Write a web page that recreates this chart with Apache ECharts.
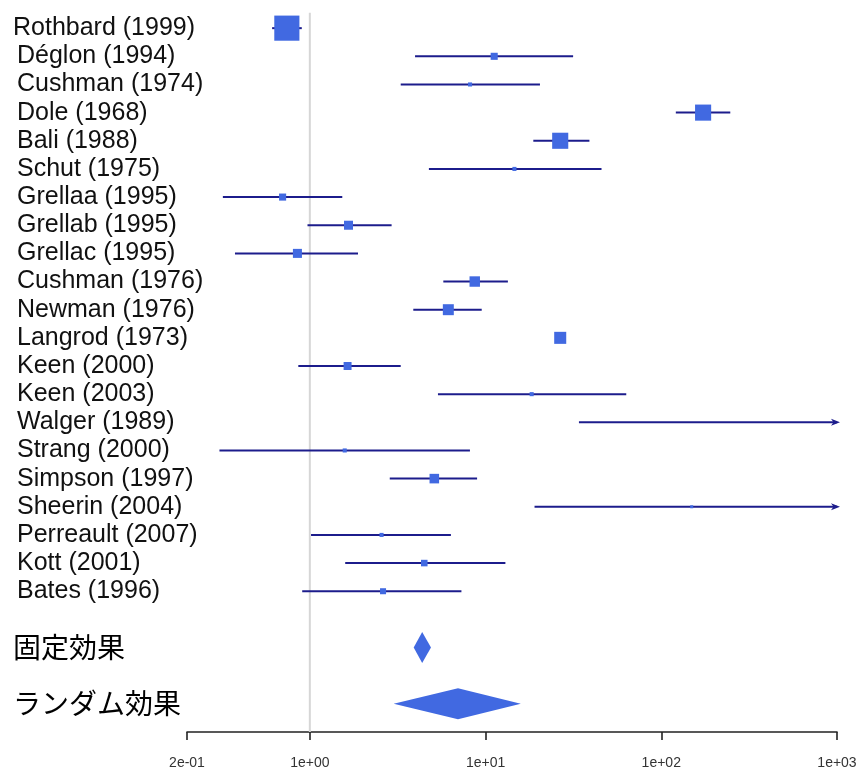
<!DOCTYPE html>
<html>
<head>
<meta charset="utf-8">
<script src="https://cdn.jsdelivr.net/npm/echarts@6/dist/echarts.min.js"></script>
<style>
  html, body { margin: 0; padding: 0; background: #fff; }
  #chart { width: 859px; height: 767px; }
</style>
</head>
<body>
<div id="chart"></div>
<script>
// ---- data ----
const studies = [
  'Rothbard (1999)', 'Déglon (1994)', 'Cushman (1974)', 'Dole (1968)', 'Bali (1988)',
  'Schut (1975)', 'Grellaa (1995)', 'Grellab (1995)', 'Grellac (1995)', 'Cushman (1976)',
  'Newman (1976)', 'Langrod (1973)', 'Keen (2000)', 'Keen (2003)', 'Walger (1989)',
  'Strang (2000)', 'Simpson (1997)', 'Sheerin (2004)', 'Perreault (2007)', 'Kott (2001)',
  'Bates (1996)'
];
const estimates = [0.74, 11.2, 8.16, 173, 26.6, 14.6, 0.70, 1.66, 0.85, 8.68, 6.14, 26.6, 1.64, 18.3, 1250, 1.58, 5.11, 149, 2.56, 4.48, 2.61];
const lower     = [0.61, 3.97, 3.29, 121, 18.7, 4.76, 0.32, 0.97, 0.375, 5.75, 3.88, 25.0, 0.86, 5.36, 34.0, 0.306, 2.85, 19.0, 1.016, 1.59, 0.905];
const upper     = [0.90, 31.5, 20.4, 247, 39.0, 45.7, 1.53, 2.92, 1.88, 13.4, 9.51, 28.3, 3.29, 63.2, 46000, 8.15, 8.95, 1170, 6.35, 12.97, 7.29];
const weights   = [14.2, 4.0, 2.3, 9.1, 9.1, 2.3, 4.0, 5.1, 5.1, 5.9, 6.2, 6.8, 4.5, 2.3, 0.6, 2.3, 5.4, 1.7, 2.3, 3.7, 3.4];

const summaryLabels = ['固定効果', 'ランダム効果'];
const summaryEst    = [4.36, 6.97];
const summaryLower  = [3.90, 3.00];
const summaryUpper  = [4.89, 15.87];

const tickValues = [0.2, 1, 10, 100, 1000];
const tickLabels = ['2e-01', '1e+00', '1e+01', '1e+02', '1e+03'];

// ---- layout helpers ----
const lg = Math.log10;
const xMin = lg(tickValues[0]);
const xMax = lg(tickValues[tickValues.length - 1]);
const nStudy = studies.length;
const summaryRows = summaryLabels.map((_, k) => nStudy + 1 + 2 * k);

const LINE = '#1c1c8c';
const BOX = '#4169E1';

const labelMap = {};
studies.forEach((s, i) => { labelMap[i] = s; });
summaryLabels.forEach((s, k) => { labelMap[summaryRows[k]] = s; });

const ciData = studies.map((s, i) => [i, lg(lower[i]), lg(upper[i])]);
const boxData = studies.map((s, i) => [lg(estimates[i]), i, weights[i]]);
const diamondData = summaryLabels.map((s, k) => [summaryRows[k], lg(summaryLower[k]), lg(summaryEst[k]), lg(summaryUpper[k])]);

const chart = echarts.init(document.getElementById('chart'), null, { renderer: 'canvas' });

const option = {
  animation: false,
  backgroundColor: '#fff',
  grid: { left: 187, right: 22, top: 0, bottom: 35, containLabel: false, outerBoundsMode: 'none' },
  xAxis: {
    type: 'value',
    min: xMin,
    max: xMax,
    splitLine: { show: false },
    axisLine: { show: true, onZero: false, lineStyle: { color: '#222', width: 1.6 } },
    axisTick: { show: true, length: 8, lineStyle: { color: '#222', width: 1.6 },
      customValues: tickValues.map(lg) },
    axisLabel: {
      customValues: tickValues.map(lg),
      margin: 24,
      fontSize: 14,
      color: '#333',
      fontFamily: 'Liberation Sans, Arial, sans-serif',
      formatter: function (v) {
        let best = 0, bd = Infinity;
        tickValues.forEach((t, i) => { const d = Math.abs(lg(t) - v); if (d < bd) { bd = d; best = i; } });
        return tickLabels[best];
      }
    }
  },
  yAxis: {
    type: 'value',
    inverse: true,
    min: -1,
    max: nStudy + 4,
    splitLine: { show: false },
    axisLine: { show: false },
    axisTick: { show: false },
    axisLabel: {
      customValues: Object.keys(labelMap).map(Number),
      align: 'left',
      margin: 174,
      color: '#111',
      fontSize: 25,
      fontFamily: 'Liberation Sans, Arial, sans-serif',
      formatter: function (v) {
        const i = Math.round(v);
        const txt = labelMap[i];
        if (txt === undefined) return '';
        if (i >= nStudy) return '{j|' + txt + '}';
        if (i === 0) return '{a|' + txt + '}';
        return '{b|' + txt + '}';
      },
      rich: {
        a: { fontSize: 25, fontFamily: 'Liberation Sans, Arial, sans-serif', color: '#111' },
        b: { fontSize: 25, fontFamily: 'Liberation Sans, Arial, sans-serif', color: '#111', padding: [0, 0, 0, 4] },
        j: { fontSize: 28, fontFamily: 'Noto Sans CJK JP', color: '#000' }
      }
    }
  },
  series: [
    {
      // reference line at 1
      type: 'line',
      data: [[0, -0.55], [0, nStudy + 4]],
      symbol: 'none',
      silent: true,
      lineStyle: { color: '#d6d6d6', width: 2 },
      z: 1
    },
    {
      type: 'custom',
      name: 'CI',
      clip: false,
      z: 2,
      dimensions: ['row', 'lo', 'hi'],
      encode: { x: ['lo', 'hi'], y: 'row' },
      data: ciData,
      renderItem: function (params, api) {
        const row = api.value(0), lo = api.value(1), hi = api.value(2);
        const a = api.coord([Math.max(lo, xMin), row]);
        const b = api.coord([Math.min(hi, xMax), row]);
        const children = [{
          type: 'line',
          shape: { x1: a[0], y1: a[1], x2: b[0], y2: b[1] },
          style: { stroke: LINE, lineWidth: 2 }
        }];
        if (hi > xMax) {
          children.push({
            type: 'polygon',
            shape: { points: [[b[0] + 3, b[1]], [b[0] - 6, b[1] - 3.5], [b[0] - 3.5, b[1]], [b[0] - 6, b[1] + 3.5]] },
            style: { fill: LINE }
          });
        }
        return { type: 'group', children: children };
      }
    },
    {
      type: 'scatter',
      name: 'est',
      z: 3,
      symbol: 'rect',
      symbolSize: function (d) { return Math.max(3, d[2] * 1.77); },
      itemStyle: { color: BOX, opacity: 1 },
      data: boxData,
      clip: true
    },
    {
      type: 'custom',
      name: 'summary',
      z: 3,
      dimensions: ['row', 'lo', 'est', 'hi'],
      encode: { x: ['lo', 'est', 'hi'], y: 'row' },
      data: diamondData,
      renderItem: function (params, api) {
        const row = api.value(0);
        const pl = api.coord([api.value(1), row]);
        const pe = api.coord([api.value(2), row]);
        const ph = api.coord([api.value(3), row]);
        const h = 15.5;
        return {
          type: 'polygon',
          shape: { points: [[pl[0], pl[1]], [pe[0], pe[1] - h], [ph[0], ph[1]], [pe[0], pe[1] + h]] },
          style: { fill: BOX }
        };
      }
    }
  ]
};
chart.setOption(option);
</script>
</body>
</html>
